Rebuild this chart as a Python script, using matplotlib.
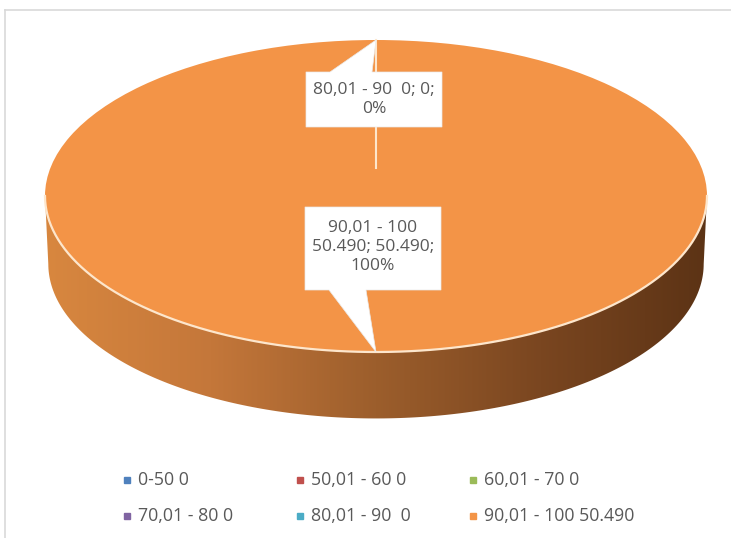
import matplotlib.pyplot as plt
import numpy as np
from matplotlib.patches import Polygon
from matplotlib.colors import LinearSegmentedColormap

# data
categories = ['0-50', '50,01 - 60', '60,01 - 70', '70,01 - 80', '80,01 - 90', '90,01 - 100']
values = [0, 0, 0, 0, 0, 50490]
value_labels = ['0', '0', '0', '0', '0', '50.490']
legend_labels = ['0-50 0', '50,01 - 60 0', '60,01 - 70 0', '70,01 - 80 0', '80,01 - 90  0', '90,01 - 100 50.490']
colors = ['#4F81BD', '#C0504D', '#9BBB59', '#8064A2', '#4BACC6', '#F39447']

W, H = 731, 538
fig = plt.figure(figsize=(W / 100, H / 100), dpi=100)
ax = fig.add_axes([0, 0, 1, 1])

# pixel -> data mapping: ellipse centre (376,196), semi axes 331 x 156 px
cx, cy, sx, sy = 376, 196, 331, 156

wedges, _ = ax.pie(values, colors=colors, startangle=90, counterclock=False,
                   radius=1, center=(0, 0), wedgeprops=dict(linewidth=0, zorder=3))
ax.set_aspect('auto')
ax.set_xlim((0 - cx) / sx, (W - cx) / sx)
ax.set_ylim((cy - H) / sy, cy / sy)
ax.axis('off')

# side of the 3d disc
depth = 68 / sy
t = np.linspace(np.pi, 2 * np.pi, 200)
top = np.column_stack([np.cos(t), np.sin(t)])
bot = np.column_stack([0.99 * np.cos(t), 0.99 * np.sin(t) - depth])
side = Polygon(np.vstack([top, bot[::-1]]), closed=True, facecolor='none', edgecolor='none')
ax.add_patch(side)
cmap = LinearSegmentedColormap.from_list('side', ['#D8873F', '#C4773A', '#9C5E2C', '#7A4620', '#5C3315'])
grad = np.linspace(0, 1, 256).reshape(1, -1)
im = ax.imshow(grad, cmap=cmap, extent=[-1, 1, -1 - depth, 0], aspect='auto', zorder=2)
im.set_clip_path(side)

# light rim on the front edge of the top face
ax.plot(top[:, 0], top[:, 1], color='#FDE6CC', lw=1.6, zorder=4)

# slice boundary line of the empty slices (at the top)
ang = np.deg2rad(wedges[0].theta1)
ax.plot([0.18 * np.cos(ang), np.cos(ang)], [0.18 * np.sin(ang), np.sin(ang)],
        color='#FDE6CC', lw=1.5, zorder=4)

txt = '#595959'
font = 'Open Sans'

def px(x, y):
    return (x - cx) / sx, (cy - y) / sy

# callout for the 0% slices
tip = (np.cos(ang), np.sin(ang))
b1 = [px(306, 72), px(330, 72), tip, px(372, 72), px(442, 72), px(442, 127), px(306, 127)]
ax.add_patch(Polygon(b1, closed=True, facecolor='white', edgecolor='#EAEAEA', lw=0.5, zorder=5))
x0, y0 = px(374, 99.5)
ax.text(x0, y0, '%s  %s; %s;\n0%%' % (categories[4], value_labels[4], value_labels[4]),
        ha='center', va='center', fontsize=12.5, color=txt, family=font,
        linespacing=1.25, zorder=6)

# callout for the 100% slice
mid = np.deg2rad((wedges[5].theta1 + wedges[5].theta2) / 2)
tip2 = (np.cos(mid), np.sin(mid))
b2 = [px(305, 207), px(441, 207), px(441, 290), px(366, 290), tip2, px(329, 290), px(305, 290)]
ax.add_patch(Polygon(b2, closed=True, facecolor='white', edgecolor='#EAEAEA', lw=0.5, zorder=5))
x0, y0 = px(373, 247)
ax.text(x0, y0, '%s\n%s; %s;\n100%%' % (categories[5], value_labels[5], value_labels[5]),
        ha='center', va='center', fontsize=12.5, color=txt, family=font,
        linespacing=1.25, zorder=6)

# legend drawn as grid (row-wise like Excel)
col_x = [127, 300, 473]
row_y = [480, 516]
for i, (lab, c) in enumerate(zip(legend_labels, colors)):
    r, k = divmod(i, 3)
    mx, my = px(col_x[k], row_y[r])
    ax.plot(mx, my, marker='s', ms=4.5, color=c, ls='none', zorder=6)
    tx, ty = px(col_x[k] + 11, row_y[r])
    ax.text(tx, ty, lab, ha='left', va='center', fontsize=12.8, color=txt, family=font, zorder=6)

# chart area border
fig.add_artist(plt.Line2D([5 / W, 5 / W], [0, 1 - 10 / H], color='#D9D9D9', lw=1.2))
fig.add_artist(plt.Line2D([5 / W, 1], [1 - 10 / H, 1 - 10 / H], color='#D9D9D9', lw=1.2))

fig.savefig('out.png', dpi=100)
